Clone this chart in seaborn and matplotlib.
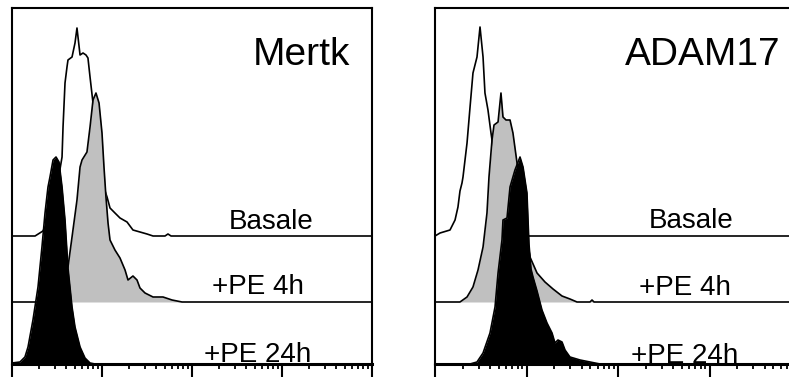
import numpy as np
import matplotlib
matplotlib.use("Agg")
import matplotlib.pyplot as plt
import seaborn as sns
from matplotlib.ticker import LogLocator, NullFormatter

# histogram outlines, x in log10 decades, heights in event counts (scaled)
mertk_basale_d = [0.0, 0.256, 0.344, 0.4, 0.456, 0.511, 0.556, 0.567, 0.589, 0.611, 0.622, 0.667, 0.7,
                  0.722, 0.756, 0.789, 0.822, 0.844, 0.867, 0.9, 0.922, 0.978, 1.011, 1.056, 1.089,
                  1.144, 1.2, 1.278, 1.344, 1.422, 1.5, 1.567, 1.7, 1.733, 1.767]
mertk_basale_h = [0, 0, 5, 15, 35, 55, 79, 109, 153, 169, 176, 179, 193,
                  208, 181, 183, 181, 178, 159, 133, 103, 76, 51, 39, 28,
                  23, 18, 14, 6, 4, 2, 0, 0, 2, 0]
mertk_4h_d = [0.311, 0.422, 0.533, 0.589, 0.622, 0.667, 0.722, 0.756, 0.778, 0.833, 0.867, 0.9, 0.933,
              0.967, 1.0, 1.022, 1.044, 1.067, 1.089, 1.144, 1.2, 1.256, 1.289, 1.344, 1.389, 1.422,
              1.478, 1.567, 1.678, 1.778, 1.889]
mertk_4h_h = [0, 10, 25, 30, 35, 65, 102, 135, 142, 150, 175, 202, 209,
              199, 169, 135, 105, 79, 62, 52, 44, 32, 22, 26, 22, 14,
              9, 5, 5, 2, 0]
mertk_24h_d = [0.0, 0.089, 0.144, 0.178, 0.233, 0.289, 0.333, 0.367, 0.4, 0.422, 0.456, 0.489, 0.522,
               0.556, 0.589, 0.622, 0.667, 0.7, 0.756, 0.811, 0.867, 0.922]
mertk_24h_h = [1, 2, 7, 17, 44, 77, 117, 151, 177, 187, 204, 207, 202,
               177, 144, 96, 57, 37, 17, 6, 1, 0]

adam_basale_d = [0.0, 0.055, 0.164, 0.219, 0.251, 0.273, 0.295, 0.306, 0.35, 0.383, 0.415, 0.459,
                 0.492, 0.525, 0.546, 0.579, 0.612, 0.656, 0.71, 0.765, 0.82, 0.874, 0.929]
adam_basale_h = [0, 3, 6, 16, 29, 45, 53, 59, 93, 129, 163, 179,
                 209, 179, 143, 126, 103, 75, 45, 25, 12, 5, 0]
adam_4h_d = [0.219, 0.273, 0.35, 0.415, 0.47, 0.525, 0.568, 0.59, 0.623, 0.645, 0.689, 0.721, 0.743,
             0.776, 0.82, 0.852, 0.907, 0.962, 1.016, 1.038, 1.115, 1.202, 1.29, 1.388, 1.475,
             1.552, 1.694, 1.716, 1.738]
adam_4h_h = [0, 0, 5, 15, 32, 55, 89, 125, 162, 177, 180, 209, 185,
             182, 182, 169, 132, 92, 57, 45, 29, 20, 13, 6, 3,
             0, 0, 2, 0]
adam_24h_d = [0.328, 0.383, 0.459, 0.525, 0.601, 0.656, 0.689, 0.732, 0.743, 0.787, 0.82, 0.874, 0.929,
              0.962, 1.005, 1.027, 1.049, 1.071, 1.115, 1.169, 1.224, 1.279, 1.311, 1.344, 1.388,
              1.421, 1.475, 1.585, 1.694, 1.803]
adam_24h_h = [0, 0, 2, 11, 31, 57, 91, 124, 144, 146, 177, 194, 207,
              197, 171, 120, 95, 87, 73, 54, 41, 31, 21, 24, 22,
              14, 7, 4, 2, 0]

sample_labels = ["Basale", "+PE 4h", "+PE 24h"]
panel_titles = ["Mertk", "ADAM17"]
offsets = [128, 62, 0]

sns.set_style("ticks")
plt.rcParams["font.family"] = ["Liberation Sans", "DejaVu Sans"]
plt.rcParams["text.color"] = "black"

fig = plt.figure(figsize=(7.89, 3.78), dpi=100)
ax1 = fig.add_axes([12 / 789, 14 / 378, 360 / 789, 356 / 378])
ax2 = fig.add_axes([435 / 789, 14 / 378, 366 / 789, 356 / 378])

panels = [
    (ax1, [(mertk_basale_d, mertk_basale_h), (mertk_4h_d, mertk_4h_h), (mertk_24h_d, mertk_24h_h)],
     [(0.719, 0.379), (0.683, 0.197), (0.681, 0.006)], 0.939),
    (ax2, [(adam_basale_d, adam_basale_h), (adam_4h_d, adam_4h_h), (adam_24h_d, adam_24h_h)],
     [(0.699, 0.382), (0.683, 0.194), (0.683, 0.003)], 0.943),
]
fills = ["white", "#c0c0c0", "black"]

for p, (ax, curves, label_pos, title_x) in enumerate(panels):
    for i, (d, h) in enumerate(curves):
        d = np.concatenate(([0.0], d, [4.0]))
        h = np.concatenate(([0], h, [0])) + offsets[i]
        x = 10 ** d
        ax.fill_between(x, offsets[i], h, color=fills[i], lw=0, zorder=2 + i)
        sns.lineplot(x=x, y=h, ax=ax, color="black", lw=1.2, sort=False,
                     estimator=None, zorder=2 + i)
        ax.text(label_pos[i][0], label_pos[i][1], sample_labels[i], transform=ax.transAxes,
                ha="center", va="baseline", fontsize=20, color="black", zorder=10)
    ax.text(title_x, 0.84, panel_titles[p], transform=ax.transAxes, ha="right",
            va="baseline", fontsize=28, color="black", zorder=10)
    ax.set_xscale("log")
    ax.set_xlim(1, 1e4)
    ax.set_ylim(0, 356)
    ax.set_yticks([])
    ax.xaxis.set_major_locator(LogLocator(base=10, numticks=10))
    ax.xaxis.set_minor_locator(LogLocator(base=10, subs=np.arange(2, 10), numticks=20))
    ax.xaxis.set_major_formatter(NullFormatter())
    ax.xaxis.set_minor_formatter(NullFormatter())
    ax.tick_params(axis="x", which="major", length=9, width=1.5, direction="out", color="black")
    ax.tick_params(axis="x", which="minor", length=3.5, width=1.3, direction="out", color="black")
    ax.set_xlabel("")
    ax.set_ylabel("")
    for side in ["top", "left", "right"]:
        ax.spines[side].set_linewidth(1.5)
        ax.spines[side].set_color("black")
    ax.spines["bottom"].set_linewidth(2.2)
    ax.spines["bottom"].set_color("black")
    ax.set_facecolor("white")

fig.savefig("out.png", dpi=100, facecolor="white")
